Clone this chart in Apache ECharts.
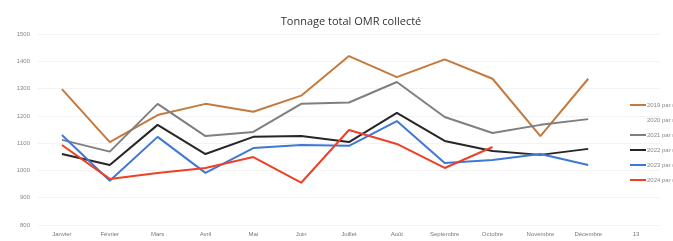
<!DOCTYPE html>
<html>
<head>
<meta charset="UTF-8">
<title>Tonnage total OMR</title>
<script type="text/javascript" src="https://cdn.jsdelivr.net/npm/echarts@6/dist/echarts.min.js"></script>
<style>
  body { margin: 0; background: #fff; }
</style>
</head>
<body>
<div id="main" style="width: 673px;height:241px;"></div>
<script type="text/javascript">
// mois (13e catégorie vide "13" comme dans le classeur)
var mois = ['Janvier', 'Février', 'Mars', 'Avril', 'Mai', 'Juin', 'Juillet', 'Août', 'Septembre', 'Octobre', 'Novembre', 'Décembre', '13'];

var s2019 = [1298, 1104, 1203, 1244, 1215, 1274, 1419, 1342, 1407, 1336, 1126, 1336];
var s2020 = [];
var s2021 = [1112, 1069, 1244, 1126, 1141, 1244, 1249, 1324, 1196, 1137, 1167, 1188];
var s2022 = [1060, 1020, 1167, 1060, 1123, 1126, 1104, 1211, 1108, 1071, 1057, 1079];
var s2023 = [1130, 962, 1123, 991, 1082, 1093, 1090, 1181, 1027, 1038, 1060, 1020];
var s2024 = [1093, 969, 991, 1009, 1049, 955, 1148, 1097, 1009, 1086];

var yTicks = [800, 900, 1000, 1100, 1200, 1300, 1400, 1500];

var noms = ['2019 par mois', '2020 par mois', '2021 par mois', '2022 par mois', '2023 par mois', '2024 par mois'];
var couleurs = ['#c27a3e', '#ffffff', '#7f7f7f', '#262626', '#3f78d4', '#ee4026'];
var donnees = [s2019, s2020, s2021, s2022, s2023, s2024];

var myChart = echarts.init(document.getElementById('main'));

var series = [];
for (var i = 0; i < noms.length; i++) {
    series.push({
        name: noms[i],
        type: 'line',
        data: donnees[i],
        symbol: 'none',
        lineStyle: { width: 2, color: couleurs[i] },
        itemStyle: { color: couleurs[i] }
    });
}

var option = {
    animation: false,
    title: {
        text: 'Tonnage total OMR collecté',
        left: 346,
        textAlign: 'center',
        top: 11,
        textStyle: { fontSize: 11, fontWeight: 'normal', color: '#333', fontFamily: 'Open Sans' }
    },
    grid: { left: 38, right: 13, top: 34, bottom: 16 },
    xAxis: {
        type: 'category',
        data: mois,
        boundaryGap: true,
        axisLine: { show: false },
        axisTick: { show: false },
        axisLabel: { fontSize: 6, color: '#777', margin: 6, interval: 0 }
    },
    yAxis: {
        type: 'value',
        min: yTicks[0],
        max: yTicks[yTicks.length - 1],
        interval: 100,
        axisLabel: { fontSize: 6, color: '#888', margin: 8, formatter: function (v) { return String(v); } },
        splitLine: { lineStyle: { color: '#f3f3f3', width: 1 } }
    },
    legend: {
        orient: 'vertical',
        left: 625,
        top: 97,
        itemWidth: 16,
        itemHeight: 10,
        itemGap: 9,
        icon: 'path://M0,0 L16,0 L16,2 L0,2 Z',
        textStyle: { fontSize: 6, color: '#888', padding: [0, 0, 0, -4] },
        data: noms
    },
    series: series
};

myChart.setOption(option);
</script>
</body>
</html>
